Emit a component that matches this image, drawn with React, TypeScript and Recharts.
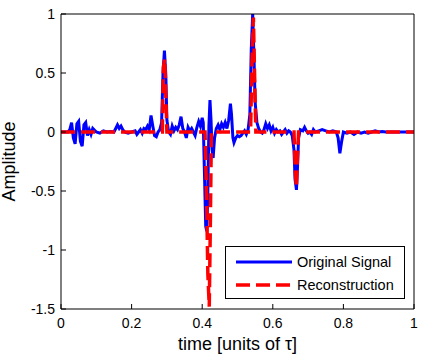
import React from 'react';
import { LineChart, Line, XAxis, YAxis, Legend } from 'recharts';

const original: [number, number][] = [
  [0,0],[0.02,0],[0.025,0.02],[0.03,0.08],[0.035,-0.05],[0.04,-0.1],[0.045,0.07],[0.05,0.09],[0.055,-0.08],[0.06,-0.12],[0.065,0.06],[0.07,0.08],[0.075,-0.03],[0.08,0.02],[0.085,-0.02],[0.09,0.03],[0.1,0],[0.11,-0.01],[0.12,0.01],[0.13,0],[0.14,0.005],[0.15,0],[0.155,0.03],[0.16,0.06],[0.165,0.03],[0.17,0.05],[0.175,0.02],[0.18,0],[0.19,-0.01],[0.2,0],[0.21,0.01],[0.215,-0.02],[0.22,0],[0.225,0.02],[0.23,-0.01],[0.235,0.03],[0.24,0.02],[0.245,0.05],[0.25,0.02],[0.255,0.14],[0.26,0.05],[0.265,-0.03],[0.27,-0.04],[0.275,0],[0.28,0.02],[0.285,0.08],[0.289,0.5],[0.293,0.69],[0.297,0.48],[0.3,0.1],[0.305,0],[0.31,-0.02],[0.315,0.05],[0.32,0.01],[0.325,0.04],[0.33,0.02],[0.335,0.06],[0.34,0.13],[0.345,0.03],[0.35,0],[0.355,-0.05],[0.36,0.04],[0.365,0.01],[0.37,0.03],[0.375,0],[0.38,-0.03],[0.385,0.04],[0.39,0.09],[0.395,0.05],[0.4,0.12],[0.403,0.08],[0.406,-0.3],[0.41,-0.8],[0.413,-0.84],[0.416,-0.5],[0.419,0.05],[0.422,0.27],[0.425,0.1],[0.428,-0.15],[0.431,-0.22],[0.435,-0.05],[0.44,0.03],[0.445,0.06],[0.45,0.02],[0.455,0.07],[0.46,0.04],[0.465,0.08],[0.47,0.03],[0.475,0.1],[0.48,0.24],[0.483,0.15],[0.487,-0.05],[0.49,-0.09],[0.495,-0.05],[0.5,-0.03],[0.505,-0.04],[0.51,-0.03],[0.515,-0.01],[0.52,0.01],[0.525,-0.02],[0.53,0.02],[0.535,0.15],[0.539,0.7],[0.543,1.0],[0.547,0.6],[0.55,0.25],[0.555,0.08],[0.56,0.03],[0.565,0],[0.57,-0.01],[0.575,0.02],[0.58,0.07],[0.585,0.03],[0.59,0.06],[0.595,0.01],[0.6,0.04],[0.605,-0.01],[0.61,0.02],[0.615,0],[0.62,0.01],[0.625,-0.02],[0.63,0],[0.635,0.02],[0.64,-0.01],[0.645,0.01],[0.65,0],[0.655,-0.03],[0.66,-0.15],[0.663,-0.4],[0.667,-0.49],[0.67,-0.3],[0.673,-0.05],[0.678,0.02],[0.685,0.01],[0.69,0.04],[0.695,0.01],[0.7,-0.01],[0.705,0],[0.71,-0.02],[0.715,0.02],[0.72,0],[0.73,0.01],[0.74,0.02],[0.75,0.01],[0.76,0],[0.77,0.01],[0.78,0],[0.785,-0.05],[0.79,-0.18],[0.795,-0.08],[0.8,0],[0.81,-0.01],[0.82,0],[0.83,-0.02],[0.84,0],[0.85,-0.01],[0.86,0],[0.87,-0.01],[0.88,0],[0.89,0.01],[0.9,0],[0.91,0.005],[0.92,0],[1,0]
];

const reconstruction: [number, number][] = [
  [0,0],[0.287,0],[0.29,0.55],[0.294,0.62],[0.297,0.3],[0.3,0],[0.408,0],[0.412,-0.5],[0.416,-1.2],[0.42,-1.48],[0.423,-0.8],[0.426,0],[0.537,0],[0.541,0.6],[0.545,0.97],[0.549,0.4],[0.552,0],[0.66,0],[0.664,-0.35],[0.667,-0.47],[0.67,-0.2],[0.673,0],[1,0]
];

const xTicks = [0, 0.2, 0.4, 0.6, 0.8, 1];
const yTicks = [-1.5, -1, -0.5, 0, 0.5, 1];
const seriesNames = ['Original Signal', 'Reconstruction'];

const FONT = 'Arial, "Liberation Sans", Helvetica, sans-serif';
const DASH = '14 6';

const origData = original.map(([x, y]) => ({ x, y }));
const recData = reconstruction.map(([x, y]) => ({ x, y }));

const renderLegend = (props: any) => {
  const payload = props.payload || [];
  return (
    <svg width={180} height={53} style={{ display: 'block' }}>
      <rect x={0.5} y={0.5} width={179} height={52} fill="#fff" stroke="#000" strokeWidth={1} />
      {payload.map((p: any, i: number) => {
        const cy = 16 + i * 23;
        return (
          <g key={i}>
            <line x1={11} x2={67} y1={cy} y2={cy} stroke={p.color}
              strokeWidth={i === 0 ? 3 : 3.5} strokeDasharray={i === 1 ? DASH : undefined} />
            <text x={72} y={cy} dominantBaseline="central" fontFamily={FONT} fontSize={14.5} fill="#000">{p.value}</text>
          </g>
        );
      })}
    </svg>
  );
};

const yLabel = (props: any) => {
  const vb = props.viewBox || { x: 0, y: 0, width: 0, height: 0 };
  const cx = 9;
  const cy = vb.y + vb.height / 2;
  return (
    <text x={cx} y={cy} transform={`rotate(-90 ${cx} ${cy})`} textAnchor="middle" dominantBaseline="central"
      fontFamily={FONT} fontSize={18} fill="#000">Amplitude</text>
  );
};

const xLabel = (props: any) => {
  const vb = props.viewBox || { x: 0, y: 0, width: 0, height: 0 };
  const cx = vb.x + vb.width / 2;
  return (
    <text x={cx} y={350} textAnchor="middle" fontFamily={FONT} fontSize={18} fill="#000">time [units of τ]</text>
  );
};

export default function App() {
  return (
    <div style={{ position: 'absolute', left: 0, top: 0, background: '#fff' }}>
      <LineChart width={424} height={357} margin={{ top: 13, right: 9, left: 0, bottom: 0 }}>
        <XAxis dataKey="x" type="number" domain={[0, 1]} ticks={xTicks} allowDataOverflow
          height={48} tickSize={-5} tickMargin={14} stroke="#000"
          tick={{ fill: '#000', fontSize: 14, fontFamily: FONT }} label={{ content: xLabel }} />
        <XAxis xAxisId="top" orientation="top" type="number" domain={[0, 1]} ticks={xTicks} allowDataOverflow
          height={1} tickSize={-5} tick={false} stroke="#000" />
        <YAxis type="number" domain={[-1.5, 1]} ticks={yTicks} allowDataOverflow
          width={61} tickSize={-5} tickMargin={11} stroke="#000"
          tick={{ fill: '#000', fontSize: 14, fontFamily: FONT }} label={{ content: yLabel }} />
        <YAxis yAxisId="right" orientation="right" type="number" domain={[-1.5, 1]} ticks={yTicks} allowDataOverflow
          width={1} tickSize={-5} tick={false} stroke="#000" />
        <Legend layout="horizontal" verticalAlign="middle" align="center"
          wrapperStyle={{ left: 225, top: 246, width: 180, height: 53 }} content={renderLegend} />
        <Line data={origData} dataKey="y" name={seriesNames[0]} stroke="#0000ff" strokeWidth={3}
          dot={false} activeDot={false} isAnimationActive={false} type="linear" />
        <Line data={recData} dataKey="y" name={seriesNames[1]} stroke="#ff0000" strokeWidth={3.5}
          strokeDasharray={DASH} dot={false} activeDot={false} isAnimationActive={false} type="linear" />
      </LineChart>
    </div>
  );
}
